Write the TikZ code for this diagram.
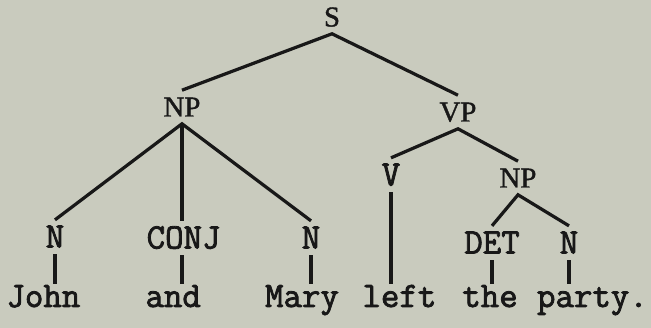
\documentclass[tikz,border=0pt]{standalone}
\usepackage{fontspec}
\newfontfamily\maquina[FakeBold=2.2]{Latin Modern Mono}
\newfontfamily\romana[FakeBold=1.2]{Liberation Serif}
\definecolor{papel}{RGB}{201,203,190}
\definecolor{tinta}{RGB}{24,24,24}
\tikzset{
	sintag/.style={font=\romana\fontsize{20.5}{24}\selectfont, text=tinta, inner xsep=0pt, inner ysep=5pt, text height=13.5pt, text depth=0pt},
	cat/.style={font=\maquina\fontsize{25.5}{28}\selectfont, text=tinta, inner xsep=0pt, inner ysep=4.5pt, text height=15pt, text depth=0pt},
	palabra/.style={font=\maquina\fontsize{25.5}{28}\selectfont, text=tinta, anchor=base, inner xsep=0pt, inner ysep=1.5pt, text height=15pt},
	rama/.style={draw=tinta, line width=2.3pt}
}
\begin{document}
\begin{tikzpicture}
		
		% fondo
		\fill[papel] (0,0) rectangle (16.275,8.2);
		\useasboundingbox (0,0) rectangle (16.275,8.2);
		
		% sintagmas
		\draw (8.3,7.775) node[sintag] (S) {S};
		\draw (4.55,5.525) node[sintag] (NP) {NP};
		\draw (11.45,5.4) node[sintag] (VP) {VP};
		\draw (12.95,3.75) node[sintag] (NPb) {NP};
		
		% categorías
		\draw (9.775,3.825) node[cat] (V) {V};
		\draw (1.375,2.275) node[cat] (N1) {N};
		\draw (4.59,2.25) node[cat] (CONJ) {CONJ};
		\draw (7.775,2.25) node[cat] (N2) {N};
		\draw (12.3,2.125) node[cat] (DET) {DET};
		\draw (14.225,2.125) node[cat] (N3) {N};
		
		% palabras
		\draw (1.085,0.525) node[palabra] (john) {John};
		\draw (4.33,0.525) node[palabra] (and) {and};
		\draw (7.55,0.525) node[palabra] (mary) {Mary};
		\draw (9.985,0.525) node[palabra] (left) {left};
		\draw (12.25,0.525) node[palabra] (the) {the};
		\draw (14.81,0.525) node[palabra] (party) {party.};
		
		% ramas
		\draw[rama] (NP.north) -- (S.south) -- (VP.north);
		\draw[rama] (N1.north) -- (NP.south) -- (N2.north);
		\draw[rama] (NP.south) -- (CONJ.north -| NP.south);
		\draw[rama] (V.north) -- (VP.south) -- (NPb.north);
		\draw[rama] (DET.north) -- (NPb.south) -- (N3.north);
		
		% ramas a las palabras
		\draw[rama] (N1.south) -- (john.north -| N1.south);
		\draw[rama] (CONJ.south -| NP.south) -- (and.north -| NP.south);
		\draw[rama] (N2.south) -- (mary.north -| N2.south);
		\draw[rama] (V.south) -- (left.north -| V.south);
		\draw[rama] (DET.south) -- (the.north -| DET.south);
		\draw[rama] (N3.south) -- (party.north -| N3.south);
		
\end{tikzpicture}
\end{document}
